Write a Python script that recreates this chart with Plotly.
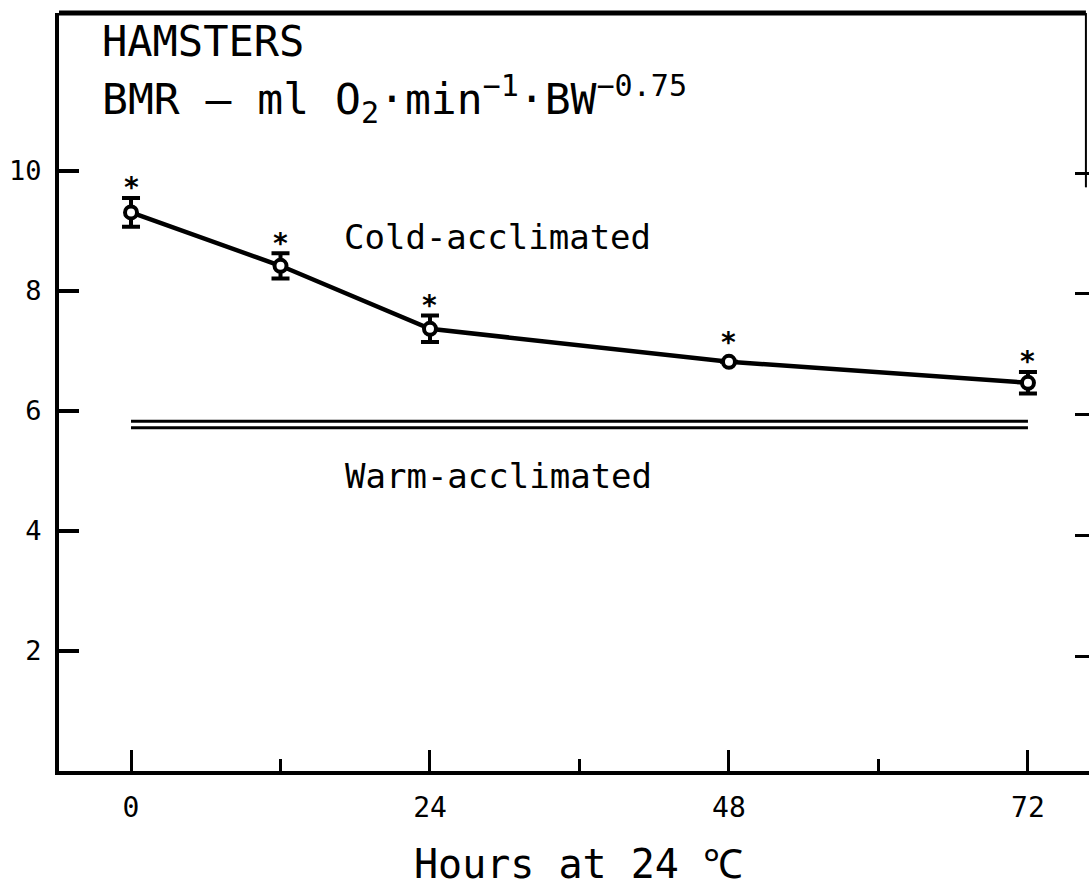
import plotly.graph_objects as go

# ---- data ----
hours = [0, 12, 24, 48, 72]
cold_bmr = [9.31, 8.42, 7.37, 6.82, 6.47]
cold_se = [0.24, 0.21, 0.22, 0.0, 0.18]

warm_hours = [0, 72]
warm_upper = [5.83, 5.83]
warm_lower = [5.72, 5.72]

x_major = [0, 24, 48, 72]
x_labels = ["0", "24", "48", "72"]
y_ticks = [2, 4, 6, 8, 10]
y_labels = ["2", "4", "6", "8", "10"]

FONT = "DejaVu Sans Mono"
W, H = 1091, 886
ML, MR, MT, MB = 59, 2, 13, 115
X_RANGE = [-5.78, 76.9]
Y_RANGE = [0, 12.633]
PX_PER_Y = (H - MT - MB) / (Y_RANGE[1] - Y_RANGE[0])

fig = go.Figure()

for yy in (warm_upper, warm_lower):
    fig.add_trace(go.Scatter(
        x=warm_hours, y=yy, mode="lines",
        line=dict(color="black", width=3), hoverinfo="skip", showlegend=False))

fig.add_trace(go.Scatter(
    x=hours, y=cold_bmr, mode="lines+markers",
    line=dict(color="black", width=4.5),
    marker=dict(symbol="circle", size=12, color="white",
                line=dict(color="black", width=4)),
    error_y=dict(type="data", array=cold_se, visible=True,
                 color="black", thickness=4, width=9),
    showlegend=False))

# a dummy trace on the right-hand axis so its ticks are drawn
fig.add_trace(go.Scatter(x=[None], y=[None], yaxis="y2", showlegend=False,
                         hoverinfo="skip"))

annotations = []
for xv, yv, se in zip(hours, cold_bmr, cold_se):
    extra = max(9 - se * PX_PER_Y, 0)
    annotations.append(dict(
        x=xv, y=yv + se, xref="x", yref="y", text="*", showarrow=False,
        xanchor="center", yanchor="middle", yshift=extra + 10,
        font=dict(family=FONT, size=28, color="black", weight="bold")))

annotations += [
    dict(x=0.040, y=0.963, xref="paper", yref="paper", text="HAMSTERS",
         showarrow=False, xanchor="left", yanchor="middle",
         font=dict(family=FONT, size=42, color="black")),
    dict(x=0.040, y=0.886, xref="paper", yref="paper",
         text="BMR – ml O<sub>2</sub>·min<sup>−1</sup>·BW<sup>−0.75</sup>",
         showarrow=False, xanchor="left", yanchor="middle",
         font=dict(family=FONT, size=43, color="black")),
    dict(x=16.94, y=8.9, xref="x", yref="y", text="Cold-acclimated",
         showarrow=False, xanchor="left", yanchor="middle",
         font=dict(family=FONT, size=34, color="black")),
    dict(x=17.0, y=4.92, xref="x", yref="y", text="Warm-acclimated",
         showarrow=False, xanchor="left", yanchor="middle",
         font=dict(family=FONT, size=34, color="black")),
    dict(x=35.9, y=0, xref="x", yref="paper", text="Hours at 24 ℃",
         showarrow=False, xanchor="center", yanchor="middle", yshift=-93,
         font=dict(family=FONT, size=40, color="black")),
]

shapes = [
    # top frame line
    dict(type="line", xref="paper", yref="paper", x0=0, x1=0.997, y0=1, y1=1,
         line=dict(color="black", width=5)),
    # faint right frame remnant
    dict(type="line", xref="paper", yref="paper", x0=0.997, x1=0.997, y0=1,
         y1=0.77, line=dict(color="black", width=2)),
]

fig.update_layout(
    width=W, height=H,
    margin=dict(l=ML, r=MR, t=MT, b=MB, pad=0),
    paper_bgcolor="white", plot_bgcolor="white",
    showlegend=False,
    annotations=annotations, shapes=shapes,
    xaxis=dict(range=X_RANGE, showgrid=False, zeroline=False,
               showline=True, linecolor="black", linewidth=4,
               tickmode="array", tickvals=x_major, ticktext=x_labels,
               ticks="inside", ticklen=21, tickwidth=3, tickcolor="black",
               ticklabelstandoff=8,
               minor=dict(ticks="inside", ticklen=12, tickwidth=3,
                          tickcolor="black", tick0=0, dtick=12,
                          showgrid=False),
               tickfont=dict(family=FONT, size=28, color="black")),
    yaxis=dict(range=Y_RANGE, showgrid=False, zeroline=False,
               showline=True, linecolor="black", linewidth=4,
               tickmode="array", tickvals=y_ticks, ticktext=y_labels,
               ticks="inside", ticklen=20, tickwidth=4, tickcolor="black",
               ticklabelstandoff=8,
               tickfont=dict(family=FONT, size=27, color="black")),
    yaxis2=dict(range=[0.099, 12.649], overlaying="y", side="right",
                showgrid=False, zeroline=False, showline=False,
                tickmode="array", tickvals=y_ticks, showticklabels=False,
                ticks="inside", ticklen=14, tickwidth=3, tickcolor="black"),
)

fig.write_html("out.html")
